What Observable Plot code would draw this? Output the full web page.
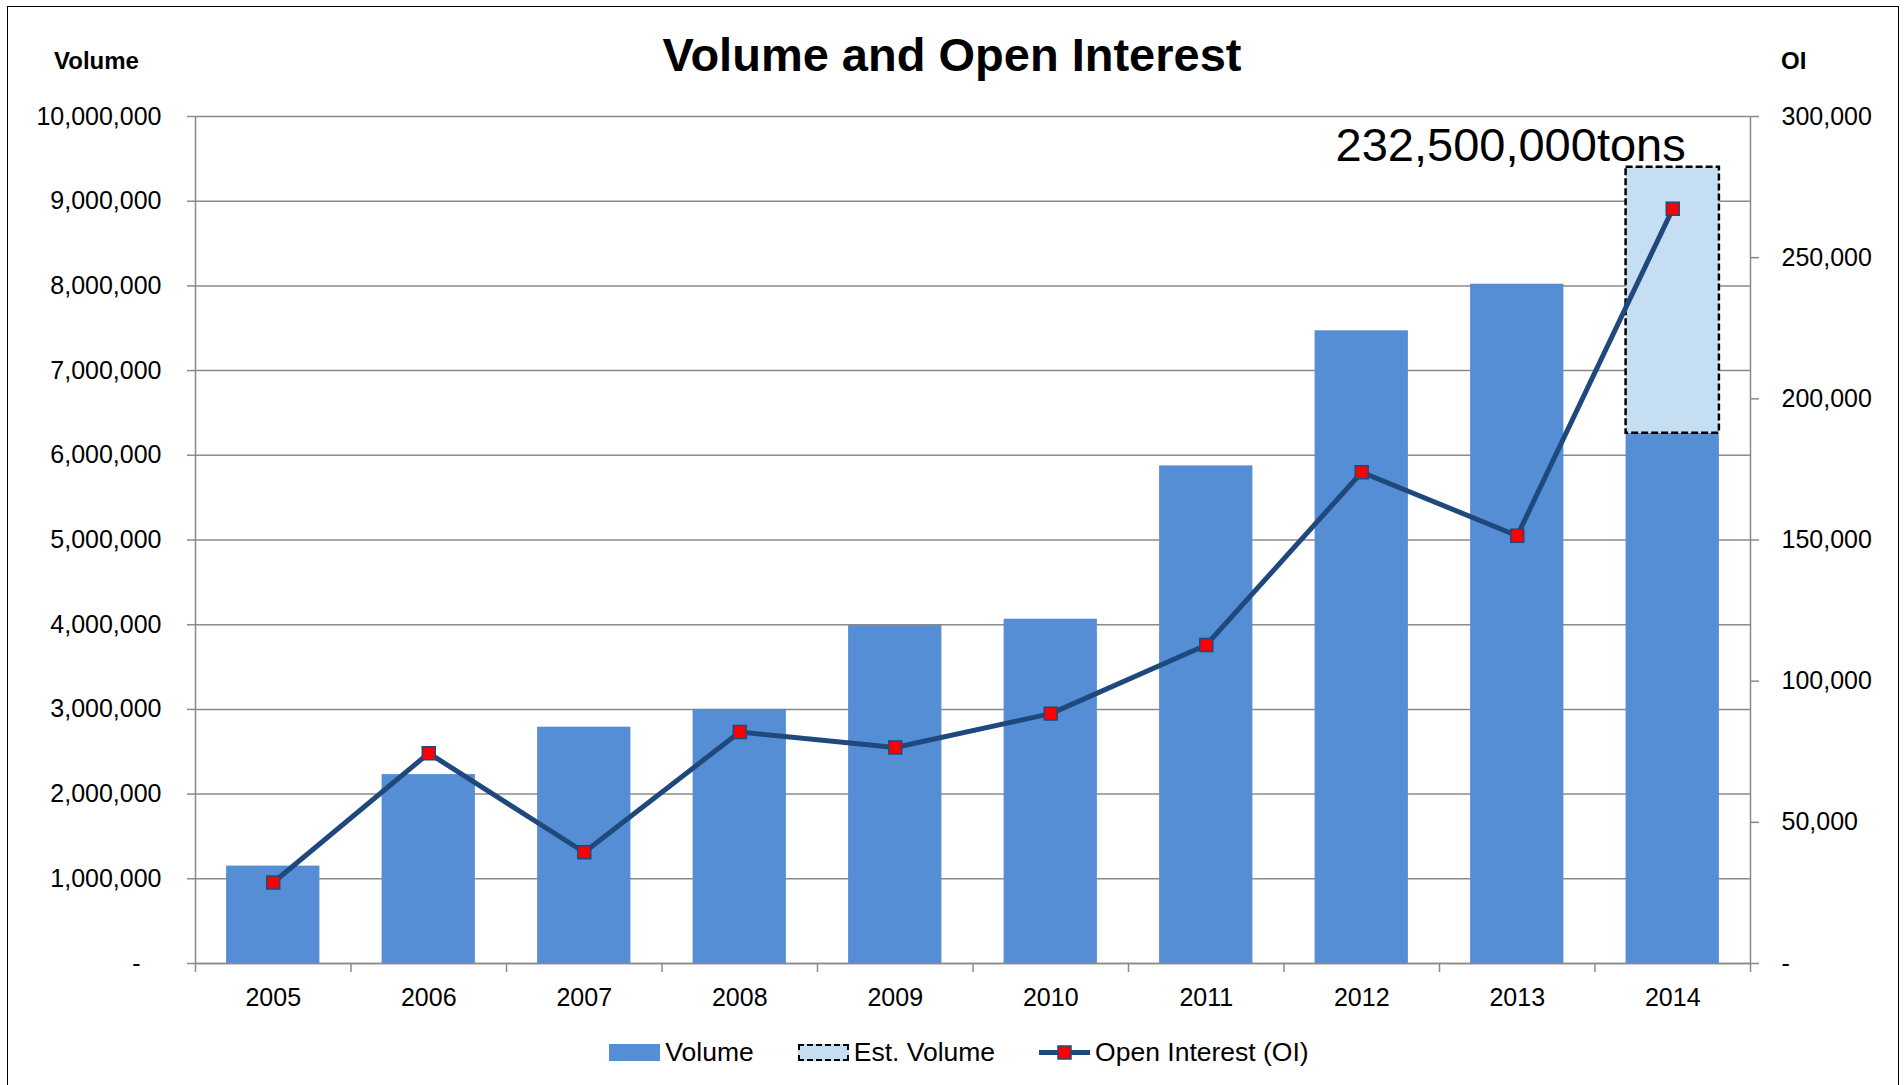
<!DOCTYPE html>
<html>
<head>
<meta charset="utf-8">
<script src="https://cdn.jsdelivr.net/npm/d3@7"></script>
<script src="https://cdn.jsdelivr.net/npm/@observablehq/plot@0.6"></script>
<style>
  html, body { margin: 0; padding: 0; background: #fff; }
  body { font-family: "Liberation Sans", Arial, sans-serif; color: #000; }
  #wrap { position: relative; width: 1904px; height: 1085px; overflow: hidden; }
  #frame { position: absolute; left: 7px; top: 6px; width: 1892px; height: 1200px; border: 1.5px solid #000; box-sizing: border-box; }
  #title { position: absolute; left: 0; top: 27px; width: 1904px; text-align: center; font-weight: bold; font-size: 47px; line-height: 1.2; }
  .axlabel { position: absolute; top: 47px; font-weight: bold; font-size: 24px; line-height: 1.2; }
  #chart { position: absolute; left: 0; top: 80px; }
  #legend { position: absolute; left: 0; top: 1037px; width: 1904px; padding-left: 14px; box-sizing: border-box; display: flex; justify-content: center; align-items: center; font-size: 26.5px; line-height: 1.2; }
  .item { display: flex; align-items: center; margin: 0 22px; }
  .sw { width: 51px; height: 17px; margin-right: 5px; box-sizing: border-box; }
</style>
</head>
<body>
<div id="wrap">
  <div id="frame"></div>
  <div id="title">Volume and Open Interest</div>
  <div class="axlabel" style="left:54px;">Volume</div>
  <div class="axlabel" style="left:1781px;">OI</div>
  <div id="chart"></div>
  <div id="legend">
    <div class="item"><div class="sw" style="background:#558ED5;"></div><span>Volume</span></div>
    <div class="item"><div class="sw" style="background:#C6DEF1;border:2px dashed #000;"></div><span>Est. Volume</span></div>
    <div class="item"><svg class="sw" width="51" height="17" viewBox="0 0 51 17"><line x1="0" y1="8.5" x2="51" y2="8.5" stroke="#1F497D" stroke-width="5"/><rect x="19" y="2" width="13" height="13" fill="#FF0000" stroke="#1F497D" stroke-width="1.5"/></svg><span>Open Interest (OI)</span></div>
  </div>
</div>
<script>
// ---- data ----
const years = [2005, 2006, 2007, 2008, 2009, 2010, 2011, 2012, 2013, 2014];
const volume = [1150000, 2230000, 2790000, 3000000, 3990000, 4065000, 5875000, 7470000, 8020000, 6260000];
const estVolume = [0, 0, 0, 0, 0, 0, 0, 0, 0, 3140000];
const openInterest = [28700, 74500, 39400, 82000, 76500, 88500, 112800, 174000, 151500, 267300];
const volumeTicks = [0, 1000000, 2000000, 3000000, 4000000, 5000000, 6000000, 7000000, 8000000, 9000000, 10000000];
const oiTicks = [0, 50000, 100000, 150000, 200000, 250000, 300000];
const annotation = "232,500,000tons";

// ---- build ----
const volMax = volumeTicks[volumeTicks.length - 1];
const oiMax = oiTicks[oiTicks.length - 1];
const k = volMax / oiMax; // maps OI onto the volume scale (right axis)
const data = years.map((y, i) => ({year: y, volume: volume[i], est: estVolume[i], oi: openInterest[i]}));
const bounds = years.map(y => y - 0.5).concat([years[years.length - 1] + 0.5]);
const fmt = d3.format(",");
const grid = "#8a8a8a";
const half = 0.3; // half bar width in band units

const chart = Plot.plot({
  width: 1904,
  height: 950,
  marginLeft: 195,
  marginRight: 154,
  marginTop: 36,
  marginBottom: 67,
  style: {fontFamily: "'Liberation Sans', Arial, sans-serif", fontSize: "25px", color: "#000", background: "transparent", overflow: "visible"},
  x: {type: "linear", domain: [bounds[0], bounds[bounds.length - 1]]},
  y: {domain: [0, volMax]},
  marks: [
    Plot.ruleY(volumeTicks, {stroke: grid, strokeWidth: 1.5}),
    Plot.ruleX([bounds[0], bounds[bounds.length - 1]], {stroke: grid, strokeWidth: 1.5}),
    Plot.rectY(data, {x1: d => d.year - half, x2: d => d.year + half, y1: 0, y2: "volume", fill: "#558ED5"}),
    Plot.rectY(data.filter(d => d.est > 0), {x1: d => d.year - half, x2: d => d.year + half, y1: "volume", y2: d => d.volume + d.est, fill: "#C6DEF1", stroke: "#000", strokeWidth: 2.5, strokeDasharray: "7,3"}),
    Plot.line(data, {x: "year", y: d => d.oi * k, stroke: "#1F497D", strokeWidth: 5, strokeLinejoin: "round"}),
    Plot.dot(data, {x: "year", y: d => d.oi * k, symbol: "square", r: 7.3, fill: "#FF0000", stroke: "#1F497D", strokeWidth: 1.5}),
    Plot.text(data.filter(d => d.est > 0), {x: "year", y: d => d.volume + d.est, text: () => annotation, textAnchor: "end", lineAnchor: "bottom", dx: 13, dy: -6, fontSize: 47, fill: "#000"}),
    Plot.axisY({anchor: "left", ticks: volumeTicks, tickSize: 8, tickPadding: 26, tickFormat: d => d === 0 ? "-\u00a0\u00a0\u00a0" : fmt(d), stroke: grid, strokeWidth: 1.5, fill: "#000", label: null}),
    Plot.axisY({anchor: "right", ticks: oiTicks.map(v => v * k), tickSize: 8, tickPadding: 23, tickFormat: d => Math.round(d / k) === 0 ? "-" : fmt(Math.round(d / k)), stroke: grid, strokeWidth: 1.5, fill: "#000", label: null}),
    Plot.axisX({ticks: bounds, tickSize: 9, tickFormat: () => "", stroke: grid, strokeWidth: 1.5, label: null}),
    Plot.axisX({ticks: years, tickSize: 0, tickPadding: 25, tickFormat: d => String(d), fill: "#000", label: null}),
    Plot.ruleY([0], {stroke: grid, strokeWidth: 1.5})
  ]
});
document.getElementById("chart").appendChild(chart);
</script>
</body>
</html>
